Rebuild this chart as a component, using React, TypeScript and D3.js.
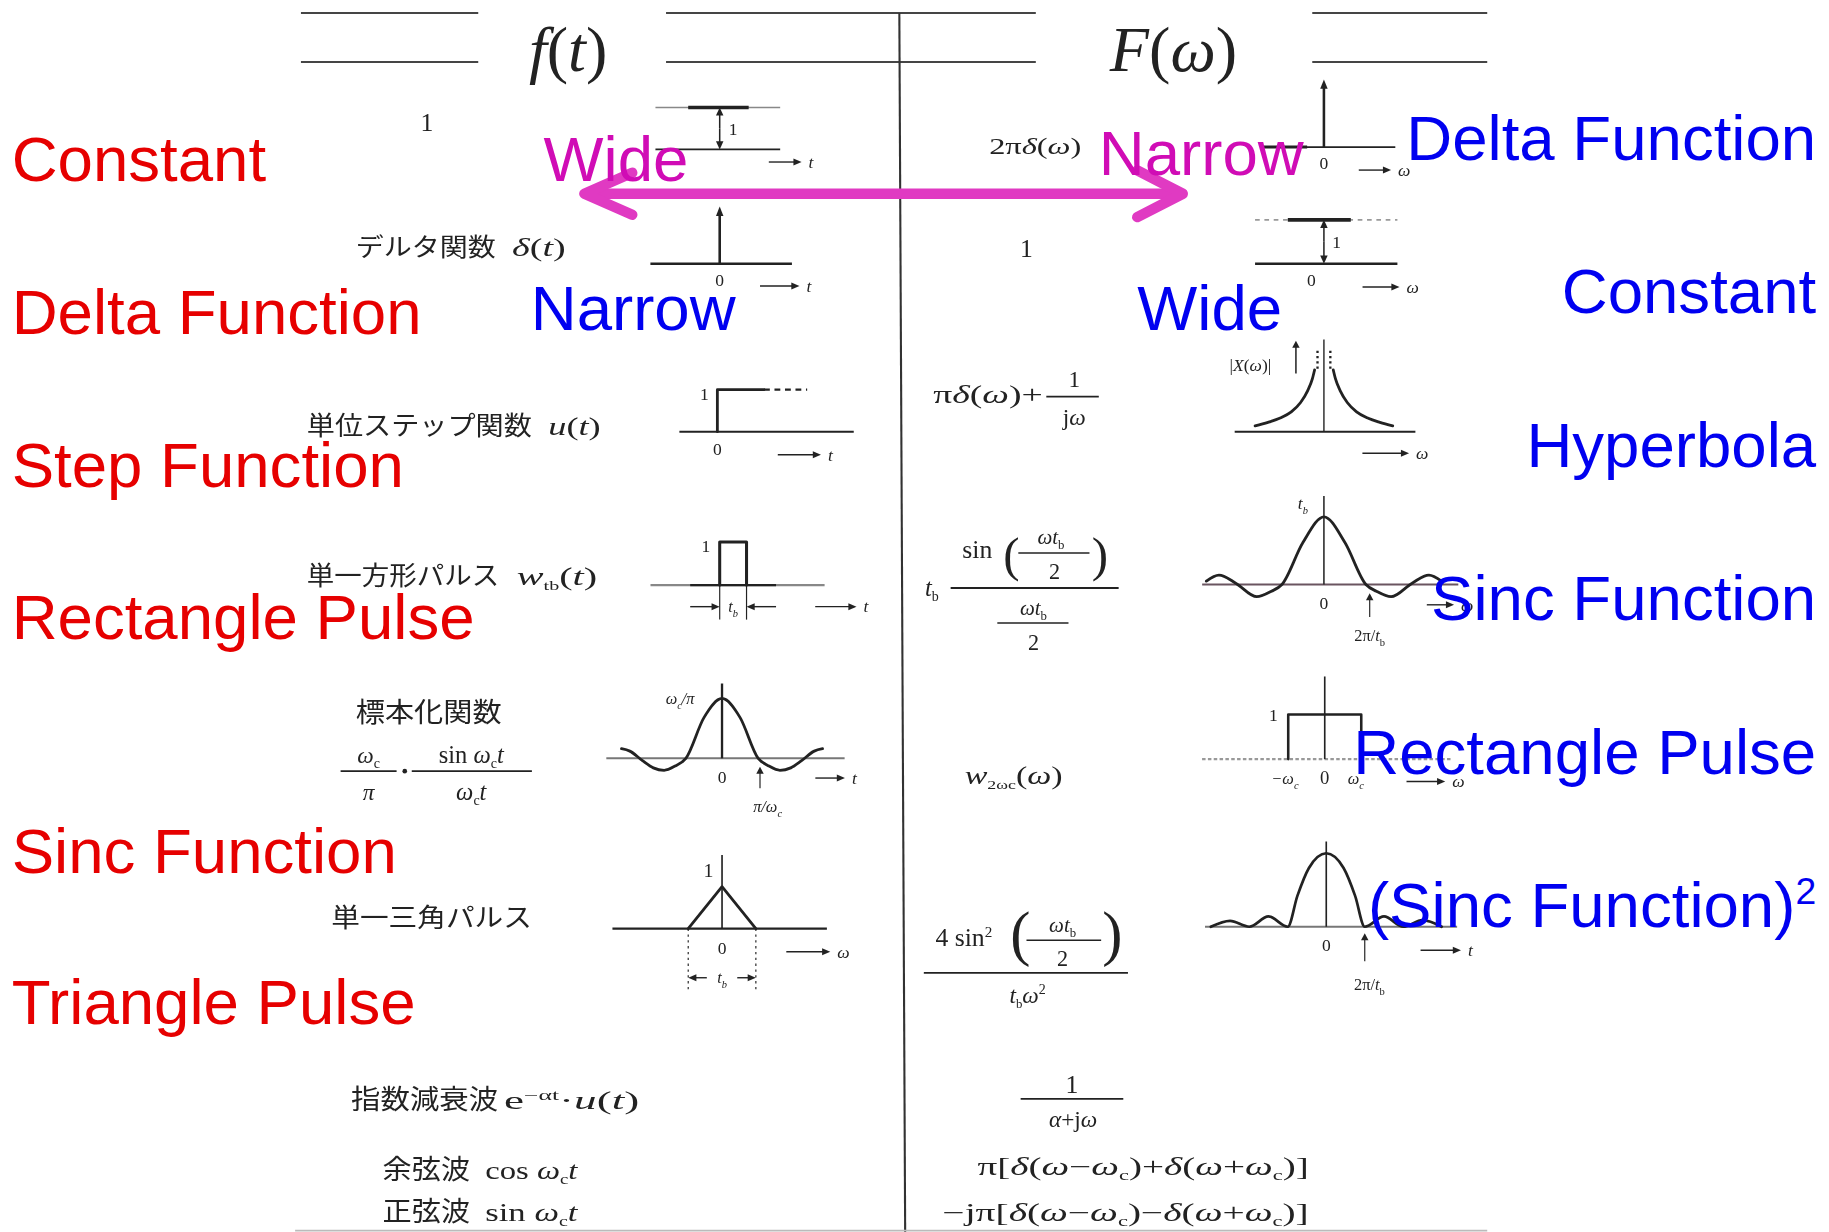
import * as d3 from "d3";

// ---------- data ----------
const timeNames = ["Constant", "Delta Function", "Step Function", "Rectangle Pulse", "Sinc Function", "Triangle Pulse"];
const timeSlots = [0, 1, 2, 3, 4.53, 5.52];
const freqNames = ["Delta Function", "Constant", "Hyperbola", "Sinc Function", "Rectangle Pulse", "(Sinc Function)"];
const freqPower = ["", "", "", "", "", "2"];
const topWords = ["Wide", "Narrow"];
const bottomWords = ["Narrow", "Wide"];
const jpNames = ["デルタ関数", "単位ステップ関数", "単一方形パルス", "標本化関数", "単一三角パルス", "指数減衰波", "余弦波", "正弦波"];

// curves, x in panel units, y relative to the peak
const stepT = [[0, 0], [0, 1], [1.08, 1]];
const rectT = [[-0.5, 0], [-0.5, 1], [0.5, 1], [0.5, 0]];
const triT = [[-1, 0], [0, 1], [1, 0]];
const rectF = [[-1, 0], [-1, 1], [1, 1], [1, 0]];
const sincT = [
  [-2.78, 0.16], [-2.55, 0.12], [-2.2, -0.04], [-1.9, -0.16], [-1.6, -0.2], [-1.3, -0.13], [-1.0, 0],
  [-0.5, 0.68], [0, 1], [0.5, 0.68], [1.0, 0], [1.3, -0.13], [1.6, -0.2], [1.9, -0.16], [2.2, -0.04],
  [2.55, 0.12], [2.78, 0.16],
];
const sincF = [
  [-2.8, 0.05], [-2.5, 0.14], [-2.1, 0.02], [-1.6, -0.18], [-1.25, -0.1], [-1.0, 0], [-0.5, 0.62],
  [0, 1], [0.5, 0.62], [1.0, 0], [1.25, -0.1], [1.6, -0.18], [2.1, 0.02], [2.5, 0.14], [2.8, 0.05],
];
const sincSqF = [
  [-3.0, 0], [-2.5, 0.08], [-2.0, 0], [-1.5, 0.14], [-1.0, 0], [-0.75, 0.42], [-0.45, 0.8], [0, 1],
  [0.45, 0.8], [0.75, 0.42], [1.0, 0], [1.5, 0.14], [2.0, 0], [2.5, 0.09], [3.0, 0],
];
const hyperF = [[0.8, 5.3], [1.0, 4.5], [1.4, 3.5], [2.0, 2.5], [2.8, 1.7], [3.8, 1.15], [4.8, 0.8], [5.9, 0.5]];

// ---------- helpers ----------
const INK = "#222";
const SERIF = "'Liberation Serif', 'DejaVu Serif', serif";
const SANS = "'Liberation Sans', Arial, sans-serif";
const JP = "'Noto Sans CJK JP', sans-serif";

function frame(ox, oy, ux, uy) {
  return {
    x: d3.scaleLinear().domain([0, 1]).range([ox, ox + ux]),
    y: d3.scaleLinear().domain([0, 1]).range([oy, oy - uy]),
  };
}

function HL({ f, a, b, v = 0, w = 1.6, c = INK, dash = undefined }: any) {
  return <line x1={f.x(a)} x2={f.x(b)} y1={f.y(v)} y2={f.y(v)} stroke={c} strokeWidth={w} strokeDasharray={dash} />;
}
function VL({ f, u = 0, a = 0, b, w = 1.5, c = INK, dash = undefined }: any) {
  return <line x1={f.x(u)} x2={f.x(u)} y1={f.y(a)} y2={f.y(b)} stroke={c} strokeWidth={w} strokeDasharray={dash} />;
}
function Curve({ f, pts, smooth = false, w = 2.2 }: any) {
  const gen = d3.line<any>().x((d) => f.x(d[0])).y((d) => f.y(d[1])).curve(smooth ? d3.curveMonotoneX : d3.curveLinear);
  return <path d={gen(pts) || ""} fill="none" stroke={INK} strokeWidth={w} strokeLinejoin="round" strokeLinecap="round" />;
}
function VArrow({ f, u = 0, a, b, w = 1.8, head = 8 }: any) {
  const x = f.x(u), y0 = f.y(a), y1 = f.y(b);
  const s = Math.sign(y0 - y1);
  return (
    <g>
      <line x1={x} x2={x} y1={y0} y2={y1 + s * head * 0.6} stroke={INK} strokeWidth={w} />
      <path d={`M${x},${y1}L${x - 3.2},${y1 + s * head}L${x + 3.2},${y1 + s * head}Z`} fill={INK} />
    </g>
  );
}
function HArrow({ f, a, b, v, w = 1.2, head = 7 }: any) {
  const y = f.y(v), x0 = f.x(a), x1 = f.x(b);
  const s = Math.sign(x1 - x0);
  return (
    <g>
      <line x1={x0} x2={x1 - s * head * 0.6} y1={y} y2={y} stroke={INK} strokeWidth={w} />
      <path d={`M${x1},${y}L${x1 - s * head},${y - 3}L${x1 - s * head},${y + 3}Z`} fill={INK} />
    </g>
  );
}
function Dir({ f, a, b, v, label }: any) {
  return (
    <g>
      <HArrow f={f} a={a} b={b} v={v} />
      <text x={f.x(b) + 6} y={f.y(v) + 5} fontFamily={SERIF} fontStyle="italic" fontSize={15} fill={INK}>{label}</text>
    </g>
  );
}
function Lbl({ f, u, v, size = 15, anchor = "middle", italic = false, children }: any) {
  return (
    <text x={f.x(u)} y={f.y(v) + size * 0.35} textAnchor={anchor} fontFamily={SERIF}
      fontStyle={italic ? "italic" : "normal"} fontSize={size} fill={INK}>{children}</text>
  );
}
const sub = (s, size = 11) => <tspan fontSize={size} baselineShift={-4}>{s}</tspan>;
const sup = (s, size = 12) => <tspan fontSize={size} baselineShift={8}>{s}</tspan>;
const it = (s) => <tspan fontStyle="italic">{s}</tspan>;

export default function App() {
  const redY = d3.scaleLinear().domain([0, 1]).range([155, 286]);
  const blueY = d3.scaleLinear().domain([0, 5]).range([137, 795]);

  const A = frame(617, 128, 36, 36);
  const B = frame(1135, 126, 36, 58);
  const C = frame(617, 226, 36, 49);
  const D = frame(1135, 226, 36, 37.6);
  const E = frame(615, 370, 37, 36);
  const F = frame(1135, 370, 10, 10);
  const G = frame(628.5, 501.5, 23, 37);
  const H = frame(1135, 501, 36, 58);
  const I = frame(619, 650, 31, 51.3);
  const J = frame(1135.7, 650.7, 31.3, 38.3);
  const K = frame(619, 796, 29, 36);
  const L = frame(1137, 794.4, 33, 63);

  const hyperL = hyperF.map(([x, y]) => [-x, y]).reverse();
  const txt = { fontFamily: SERIF, fill: INK };

  return (
    <div style={{ position: "absolute", left: 0, top: 0 }}>
      <svg width={1829} height={1232} viewBox="0 0 1568 1056" style={{ display: "block" }}>
        <defs>
          <filter id="soft"><feGaussianBlur stdDeviation="0.45" /></filter>
        </defs>
        <rect width={1568} height={1056} fill="#fff" />

        {/* scanned table */}
        <g filter="url(#soft)">
          {[[258, 410], [571, 888], [1125, 1275]].map(([a, b], i) => (
            <g key={i}>
              <line x1={a} x2={b} y1={11} y2={11} stroke="#444" strokeWidth={1.8} />
              <line x1={a} x2={b} y1={53} y2={53} stroke="#444" strokeWidth={1.8} />
            </g>
          ))}
          <line x1={771} x2={776} y1={11} y2={1056} stroke="#333" strokeWidth={1.8} />
          <line x1={253} x2={1275} y1={1055} y2={1055} stroke="#bbb" strokeWidth={1.5} />
          <text x={487} y={61} textAnchor="middle" fontSize={55} {...txt}>{it("f")}({it("t")})</text>
          <text x={1006} y={61} textAnchor="middle" fontSize={55} {...txt}>{it("F")}({it("ω")})</text>

          {/* row 1 */}
          <text x={366} y={112} textAnchor="middle" fontSize={22} {...txt}>1</text>
          <HL f={A} a={-1.53} b={1.44} />
          <HL f={A} a={-1.53} b={1.44} v={1} c="#888" w={1.3} />
          <HL f={A} a={-0.75} b={0.69} v={1} w={3} />
          <VArrow f={A} a={0.5} b={1} w={1.3} head={7} />
          <VArrow f={A} a={0.5} b={0} w={1.3} head={7} />
          <Lbl f={A} u={0.32} v={0.5}>1</Lbl>
          <Dir f={A} a={1.17} b={1.95} v={-0.3} label="t" />

          <text x={848} y={132} fontSize={20} textLength={79} lengthAdjust="spacingAndGlyphs" {...txt}>2π{it("δ")}({it("ω")})</text>
          <HL f={B} a={-1.5} b={1.7} />
          <HL f={B} a={-1.5} b={-0.4} w={2.6} />
          <VArrow f={B} a={0} b={1} w={2.2} />
          <Lbl f={B} u={0} v={-0.24}>0</Lbl>
          <Dir f={B} a={0.83} b={1.6} v={-0.34} label="ω" />

          {/* row 2 */}
          <text x={305} y={219} fontFamily={JP} fontSize={21} fill={INK} textLength={120} lengthAdjust="spacingAndGlyphs">{jpNames[0]}</text>
          <text x={439} y={219} fontSize={21} textLength={46} lengthAdjust="spacingAndGlyphs" {...txt}>{it("δ")}({it("t")})</text>
          <HL f={C} a={-1.65} b={1.72} w={2} />
          <VArrow f={C} a={0} b={1} w={2.2} />
          <Lbl f={C} u={0} v={-0.29}>0</Lbl>
          <Dir f={C} a={0.96} b={1.9} v={-0.39} label="t" />

          <text x={880} y={220} textAnchor="middle" fontSize={22} {...txt}>1</text>
          <HL f={D} a={-1.64} b={1.75} w={2} />
          <HL f={D} a={-1.64} b={1.75} v={1} c="#999" w={1.6} dash="4 4" />
          <HL f={D} a={-0.86} b={0.64} v={1} w={3.2} />
          <VArrow f={D} a={0.5} b={1} w={1.3} head={7} />
          <VArrow f={D} a={0.5} b={0} w={1.3} head={7} />
          <Lbl f={D} u={0.3} v={0.5}>1</Lbl>
          <Lbl f={D} u={-0.3} v={-0.37}>0</Lbl>
          <Dir f={D} a={0.92} b={1.8} v={-0.53} label="ω" />

          {/* row 3 */}
          <text x={263} y={373} fontFamily={JP} fontSize={22} fill={INK} textLength={193} lengthAdjust="spacingAndGlyphs">{jpNames[1]}</text>
          <text x={470} y={373} fontSize={22} textLength={45} lengthAdjust="spacingAndGlyphs" {...txt}>{it("u")}({it("t")})</text>
          <HL f={E} a={-0.88} b={3.16} w={1.8} />
          <Curve f={E} pts={stepT} w={2.4} />
          <HL f={E} a={1.08} b={2.08} v={1} w={2} dash="5 4" />
          <Lbl f={E} u={-0.3} v={0.9}>1</Lbl>
          <Lbl f={E} u={0} v={-0.4}>0</Lbl>
          <Dir f={E} a={1.4} b={2.4} v={-0.55} label="t" />

          <text x={800} y={345} fontSize={21} textLength={94} lengthAdjust="spacingAndGlyphs" {...txt}>π{it("δ")}({it("ω")})+</text>
          <text x={921} y={332} textAnchor="middle" fontSize={20} {...txt}>1</text>
          <line x1={897} x2={942} y1={340} y2={340} stroke={INK} strokeWidth={1.5} />
          <text x={921} y={364} textAnchor="middle" fontSize={20} {...txt}>j{it("ω")}</text>
          <HL f={F} a={-7.65} b={7.84} w={1.8} />
          <VL f={F} u={0} a={0} b={7.9} w={1.2} />
          <Curve f={F} pts={hyperF} smooth w={2.4} />
          <Curve f={F} pts={hyperL} smooth w={2.4} />
          <VL f={F} u={-0.55} a={5.4} b={7.1} w={2} dash="2 2.5" />
          <VL f={F} u={0.55} a={5.4} b={7.1} w={2} dash="2 2.5" />
          <Lbl f={F} u={-6.3} v={5.7} size={15}>|{it("X")}({it("ω")})|</Lbl>
          <VArrow f={F} u={-2.4} a={5.0} b={7.8} w={1.3} head={6} />
          <Dir f={F} a={3.3} b={7.3} v={-1.85} label="ω" />

          {/* row 4 */}
          <text x={263} y={501} fontFamily={JP} fontSize={22} fill={INK} textLength={165} lengthAdjust="spacingAndGlyphs">{jpNames[2]}</text>
          <text x={443} y={501} fontSize={22} textLength={69} lengthAdjust="spacingAndGlyphs" {...txt}>{it("w")}{sub("tb")}({it("t")})</text>
          <HL f={G} a={-3.08} b={3.41} c="#888" w={1.8} />
          <HL f={G} a={-1.6} b={1.6} w={2} />
          <Curve f={G} pts={rectT} w={2.6} />
          <Lbl f={G} u={-1.02} v={0.92}>1</Lbl>
          <VL f={G} u={-0.5} a={0} b={-0.8} w={1} />
          <VL f={G} u={0.5} a={0} b={-0.8} w={1} />
          <HArrow f={G} a={-1.6} b={-0.5} v={-0.5} />
          <HArrow f={G} a={1.6} b={0.5} v={-0.5} />
          <Lbl f={G} u={0} v={-0.5} size={14} italic>t{sub("b", 9)}</Lbl>
          <Dir f={G} a={3.06} b={4.6} v={-0.5} label="t" />

          <text x={793} y={511} fontSize={21} {...txt}>{it("t")}{sub("b", 12)}</text>
          <line x1={815} x2={959} y1={504} y2={504} stroke={INK} strokeWidth={1.6} />
          <text x={825} y={478} fontSize={22} {...txt}>sin</text>
          <text x={860} y={489} fontSize={42} {...txt}>(</text>
          <text x={901} y={466} textAnchor="middle" fontSize={18} {...txt}>{it("ωt")}{sub("b", 11)}</text>
          <line x1={873} x2={934} y1={474} y2={474} stroke={INK} strokeWidth={1.4} />
          <text x={904} y={496} textAnchor="middle" fontSize={19} {...txt}>2</text>
          <text x={936} y={489} fontSize={42} {...txt}>)</text>
          <text x={886} y={527} textAnchor="middle" fontSize={18} {...txt}>{it("ωt")}{sub("b", 11)}</text>
          <line x1={855} x2={916} y1={534} y2={534} stroke={INK} strokeWidth={1.4} />
          <text x={886} y={557} textAnchor="middle" fontSize={19} {...txt}>2</text>
          <HL f={H} a={-2.9} b={3.2} c="#6a5560" w={1.6} />
          <VL f={H} u={0} a={0} b={1.31} w={1.3} />
          <Curve f={H} pts={sincF} smooth w={2.4} />
          <Lbl f={H} u={-0.5} v={1.2} size={15} italic>t{sub("b", 9)}</Lbl>
          <Lbl f={H} u={0} v={-0.27}>0</Lbl>
          <VArrow f={H} u={1.09} a={-0.48} b={-0.13} w={1} head={6} />
          <Lbl f={H} u={1.09} v={-0.75} size={14}>2π/{it("t")}{sub("b", 9)}</Lbl>
          <Dir f={H} a={2.45} b={3.1} v={-0.3} label="ω" />

          {/* row 5 */}
          <text x={305} y={619} fontFamily={JP} fontSize={23} fill={INK} textLength={125} lengthAdjust="spacingAndGlyphs">{jpNames[3]}</text>
          <text x={316} y={654} textAnchor="middle" fontSize={20} {...txt}>{it("ω")}{sub("c", 12)}</text>
          <line x1={292} x2={340} y1={661} y2={661} stroke={INK} strokeWidth={1.5} />
          <text x={316} y={686} textAnchor="middle" fontSize={20} {...txt}>{it("π")}</text>
          <circle cx={347} cy={661} r={2} fill={INK} />
          <text x={404} y={654} textAnchor="middle" fontSize={21} {...txt}>sin {it("ω")}{sub("c", 12)}{it("t")}</text>
          <line x1={353} x2={456} y1={661} y2={661} stroke={INK} strokeWidth={1.5} />
          <text x={404} y={686} textAnchor="middle" fontSize={21} {...txt}>{it("ω")}{sub("c", 12)}{it("t")}</text>
          <HL f={I} a={-3.2} b={3.39} c="#777" w={1.6} />
          <VL f={I} u={0} a={0} b={1.25} w={2} />
          <Curve f={I} pts={sincT} smooth w={2.4} />
          <Lbl f={I} u={-1.16} v={1.0} size={14} italic>ω{sub("c", 9)}/π</Lbl>
          <Lbl f={I} u={0} v={-0.31}>0</Lbl>
          <VArrow f={I} u={1.05} a={-0.5} b={-0.14} w={1} head={6} />
          <Lbl f={I} u={1.26} v={-0.8} size={14} italic>π/ω{sub("c", 9)}</Lbl>
          <Dir f={I} a={2.58} b={3.4} v={-0.33} label="t" />

          <text x={827} y={672} fontSize={21} textLength={84} lengthAdjust="spacingAndGlyphs" {...txt}>{it("w")}{sub("2ωc", 11)}({it("ω")})</text>
          <HL f={J} a={-3.36} b={3.46} c="#999" w={2} dash="3 2" />
          <VL f={J} u={0} a={0} b={1.85} w={1.4} />
          <Curve f={J} pts={rectF} w={2.2} />
          <Lbl f={J} u={-1.41} v={1.0}>1</Lbl>
          <Lbl f={J} u={-1.09} v={-0.42} size={14} italic>−ω{sub("c", 9)}</Lbl>
          <Lbl f={J} u={0} v={-0.42} size={16}>0</Lbl>
          <Lbl f={J} u={0.85} v={-0.42} size={14} italic>ω{sub("c", 9)}</Lbl>
          <Dir f={J} a={2.24} b={3.3} v={-0.5} label="ω" />

          {/* row 6 */}
          <text x={284} y={795} fontFamily={JP} fontSize={22} fill={INK} textLength={172} lengthAdjust="spacingAndGlyphs">{jpNames[4]}</text>
          <HL f={K} a={-3.24} b={3.1} w={2} />
          <VL f={K} u={0} a={0} b={1.75} w={1.4} />
          <Curve f={K} pts={triT} w={2.4} />
          <Lbl f={K} u={-0.4} v={1.4} size={17}>1</Lbl>
          <Lbl f={K} u={0} v={-0.45}>0</Lbl>
          <VL f={K} u={-1} a={0} b={-1.45} w={1} dash="2 3" />
          <VL f={K} u={1} a={0} b={-1.45} w={1} dash="2 3" />
          <HArrow f={K} a={-0.45} b={-1} v={-1.17} />
          <HArrow f={K} a={0.45} b={1} v={-1.17} />
          <Lbl f={K} u={0} v={-1.17} size={14} italic>t{sub("b", 9)}</Lbl>
          <Dir f={K} a={1.9} b={3.2} v={-0.55} label="ω" />

          <text x={802} y={811} fontSize={22} {...txt}>4 sin{sup("2", 13)}</text>
          <text x={866} y={818} fontSize={52} {...txt}>(</text>
          <text x={911} y={799} textAnchor="middle" fontSize={18} {...txt}>{it("ωt")}{sub("b", 11)}</text>
          <line x1={880} x2={944} y1={806} y2={806} stroke={INK} strokeWidth={1.4} />
          <text x={911} y={828} textAnchor="middle" fontSize={19} {...txt}>2</text>
          <text x={945} y={818} fontSize={52} {...txt}>)</text>
          <line x1={792} x2={967} y1={834} y2={834} stroke={INK} strokeWidth={1.6} />
          <text x={881} y={860} textAnchor="middle" fontSize={20} {...txt}>{it("t")}{sub("b", 11)}{it("ω")}{sup("2", 12)}</text>
          <HL f={L} a={-3.15} b={3.4} c="#777" w={1.6} />
          <VL f={L} u={0} a={0} b={1.16} w={1.4} />
          <Curve f={L} pts={sincSqF} smooth w={2.3} />
          <Lbl f={L} u={0} v={-0.25}>0</Lbl>
          <VArrow f={L} u={1} a={-0.47} b={-0.09} w={1} head={6} />
          <Lbl f={L} u={1.12} v={-0.78} size={14}>2π/{it("t")}{sub("b", 9)}</Lbl>
          <Dir f={L} a={2.45} b={3.5} v={-0.32} label="t" />

          {/* rows 7-8 */}
          <text x={301} y={951} fontFamily={JP} fontSize={23} fill={INK} textLength={126} lengthAdjust="spacingAndGlyphs">{jpNames[5]}</text>
          <text x={432} y={951} fontSize={21} textLength={116} lengthAdjust="spacingAndGlyphs" {...txt}>e{sup("−αt", 12)}·{it("u")}({it("t")})</text>
          <text x={919} y={937} textAnchor="middle" fontSize={22} {...txt}>1</text>
          <line x1={875} x2={963} y1={942} y2={942} stroke={INK} strokeWidth={1.5} />
          <text x={920} y={966} textAnchor="middle" fontSize={20} {...txt}>{it("α")}+j{it("ω")}</text>

          <text x={328} y={1011} fontFamily={JP} fontSize={23} fill={INK} textLength={75} lengthAdjust="spacingAndGlyphs">{jpNames[6]}</text>
          <text x={416} y={1011} fontSize={21} textLength={79} lengthAdjust="spacingAndGlyphs" {...txt}>cos {it("ω")}{sub("c", 12)}{it("t")}</text>
          <text x={328} y={1047} fontFamily={JP} fontSize={23} fill={INK} textLength={75} lengthAdjust="spacingAndGlyphs">{jpNames[7]}</text>
          <text x={416} y={1047} fontSize={21} textLength={79} lengthAdjust="spacingAndGlyphs" {...txt}>sin {it("ω")}{sub("c", 12)}{it("t")}</text>
          <text x={838} y={1007} fontSize={21} textLength={284} lengthAdjust="spacingAndGlyphs" {...txt}>π[{it("δ")}({it("ω")}−{it("ω")}{sub("c", 12)})+{it("δ")}({it("ω")}+{it("ω")}{sub("c", 12)})]</text>
          <text x={808} y={1047} fontSize={21} textLength={314} lengthAdjust="spacingAndGlyphs" {...txt}>−jπ[{it("δ")}({it("ω")}−{it("ω")}{sub("c", 12)})−{it("δ")}({it("ω")}+{it("ω")}{sub("c", 12)})]</text>
        </g>

        {/* overlay annotations */}
        <g fontFamily={SANS} fontSize={54.5}>
          {timeNames.map((n, i) => (
            <text key={n + i} x={10} y={redY(timeSlots[i])} fill="#e60000">{n}</text>
          ))}
          {freqNames.map((n, i) => (
            <text key={n + i} x={1557} y={blueY(i)} textAnchor="end" fill="#0000f0">
              {n}
              {freqPower[i] && <tspan fontSize={32} baselineShift={20}>{freqPower[i]}</tspan>}
            </text>
          ))}
          <g stroke="#e03ac2" strokeWidth={9} strokeLinecap="round" strokeLinejoin="round" fill="none">
            <line x1={504} x2={1011} y1={166} y2={166} />
            <polyline points="542,148 501,166 542,184" />
            <polyline points="975,146 1014,166 975,186" />
          </g>
          <text x={466} y={155} fill="#d00cb5">{topWords[0]}</text>
          <text x={942} y={150} fill="#d00cb5">{topWords[1]}</text>
          <text x={455} y={283} fill="#0000f0">{bottomWords[0]}</text>
          <text x={975} y={283} fill="#0000f0">{bottomWords[1]}</text>
        </g>
      </svg>
    </div>
  );
}
